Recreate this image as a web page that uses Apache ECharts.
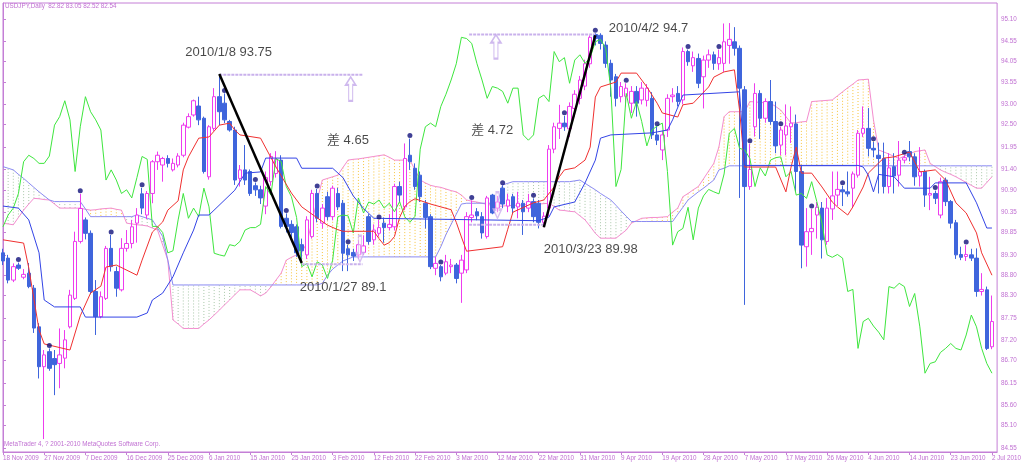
<!DOCTYPE html>
<html><head><meta charset="utf-8">
<script src="https://cdn.jsdelivr.net/npm/echarts@6/dist/echarts.min.js"></script>
<style>html,body{margin:0;padding:0;background:#fff}#c{width:1024px;height:462px}</style>
</head><body><div id="c"></div>
<script>
const dateLabels = ['18 Nov 2009','27 Nov 2009','7 Dec 2009','16 Dec 2009','25 Dec 2009','6 Jan 2010','15 Jan 2010','25 Jan 2010','3 Feb 2010','12 Feb 2010','22 Feb 2010','3 Mar 2010','12 Mar 2010','22 Mar 2010','31 Mar 2010','9 Apr 2010','19 Apr 2010','28 Apr 2010','7 May 2010','17 May 2010','26 May 2010','4 Jun 2010','14 Jun 2010','23 Jun 2010','2 Jul 2010'];
const yTicks = [95.10,94.55,94.05,93.55,93.00,92.50,91.95,91.40,90.90,90.35,89.85,89.30,88.80,88.30,87.75,87.20,86.70,86.15,85.60,85.10,84.55];

const opens = [89.35,89.22,88.68,89.05,88.75,88.85,88.48,87.53,86.55,86.92,
86.75,86.63,86.76,87.53,88.23,89.63,90.16,89.83,88.40,87.78,
88.23,89.46,88.89,88.44,89.46,89.58,90.08,90.80,90.28,90.81,
91.59,91.51,91.67,91.39,91.51,91.75,92.44,92.74,92.96,92.66,
91.22,92.41,93.19,93.03,92.58,92.37,91.18,91.39,91.35,91.00,
90.90,90.50,91.10,91.30,91.63,90.20,90.05,89.99,89.55,89.30,
89.75,90.81,90.08,90.73,90.24,90.81,90.57,89.45,89.36,89.30,
89.36,90.24,89.67,89.83,90.08,89.97,89.99,90.98,90.48,91.75,
91.43,91.26,90.57,90.24,88.97,89.01,88.85,89.01,89.05,88.85,
88.93,90.22,90.36,90.24,89.75,90.77,90.45,90.94,90.50,90.73,
90.48,90.57,90.45,90.61,90.57,90.10,90.45,91.90,92.41,92.54,
92.40,92.90,93.15,93.45,94.00,94.72,94.70,94.46,94.01,93.68,
93.19,93.20,93.03,93.32,93.11,93.10,93.15,92.25,91.88,92.37,
93.19,93.27,93.11,94.30,93.95,94.13,93.68,94.09,94.22,94.00,
94.01,94.45,94.54,94.38,93.36,90.98,92.45,93.27,92.66,93.07,
92.58,92.00,92.25,92.45,92.52,91.35,89.50,89.87,90.28,90.45,
89.63,90.43,90.77,90.90,90.85,90.94,91.26,92.29,92.41,91.92,
91.75,91.67,90.98,91.47,91.26,91.63,91.84,91.71,91.24,91.35,
90.77,90.81,90.28,91.14,90.61,90.09,89.31,89.26,89.30,89.22,
88.40,88.44,87.04];
const closes = [89.15,88.68,89.01,88.97,88.82,88.52,87.50,86.55,86.84,86.51,
86.60,86.84,87.21,88.31,89.63,90.44,89.83,88.40,87.78,88.27,
89.46,89.01,88.48,89.46,89.58,89.99,90.28,90.45,90.81,91.59,
91.75,91.67,91.55,91.55,91.73,92.49,92.70,93.09,92.62,91.35,
92.45,93.19,92.82,92.62,92.37,91.14,91.39,91.14,90.81,90.90,
90.70,91.20,91.72,91.65,90.00,90.00,89.85,89.35,89.40,90.16,
90.81,90.20,90.45,90.24,90.94,90.48,89.34,89.30,89.27,89.55,
89.52,89.63,89.91,89.97,89.97,90.05,90.98,90.77,91.67,91.59,
90.98,90.73,90.22,89.01,89.09,88.76,89.13,89.05,88.72,89.17,
90.24,90.28,90.26,89.84,90.70,90.33,90.60,90.55,90.65,90.45,
90.57,90.36,90.61,90.24,90.10,90.25,91.90,92.45,92.54,92.45,
92.95,93.25,93.60,94.00,94.65,94.62,94.50,94.01,93.60,93.15,
93.44,93.40,93.32,93.03,93.40,93.40,92.25,92.12,92.25,93.15,
93.23,93.07,94.30,94.05,94.15,93.52,94.09,94.22,94.01,94.15,
94.54,94.60,94.38,93.40,90.98,91.40,93.27,92.66,93.07,92.58,
91.98,92.37,92.47,92.54,91.35,89.54,89.87,89.95,90.47,89.67,
90.45,90.75,90.91,90.85,90.80,91.29,92.29,92.41,91.92,91.88,
91.67,90.98,91.44,91.24,91.63,91.69,91.71,91.22,91.35,90.77,
90.81,90.69,91.10,90.61,90.08,89.30,89.24,89.31,89.22,88.40,
88.45,87.00,87.66];
const highs = [89.45,89.30,89.09,89.11,88.95,89.10,88.56,87.62,86.96,87.00,
86.96,87.49,87.45,88.44,89.87,90.80,90.22,89.90,88.68,88.40,
89.52,89.79,89.01,89.71,89.91,90.16,90.45,90.95,90.87,91.63,
91.84,91.71,91.75,91.67,91.80,92.55,92.78,93.12,93.19,92.70,
92.49,93.40,93.75,93.27,92.62,92.45,91.51,92.00,91.40,91.08,
91.00,91.35,91.80,91.85,91.75,90.32,90.15,90.05,89.70,90.25,
90.90,90.92,90.55,90.85,91.00,90.95,90.65,89.55,89.45,89.65,
89.78,90.30,90.05,90.16,90.22,90.30,91.05,91.10,92.04,92.16,
91.55,91.35,90.65,90.30,89.25,89.05,89.30,89.20,89.10,89.30,
90.35,90.64,90.45,90.35,90.75,90.80,90.75,91.00,90.80,90.80,
90.85,90.65,90.80,90.69,90.65,90.35,92.00,92.55,92.99,92.72,
93.05,93.35,93.70,94.10,94.70,94.75,94.75,94.55,94.10,93.75,
93.55,93.52,93.45,93.45,93.55,93.50,93.30,92.45,92.35,93.25,
93.40,93.45,94.40,94.35,94.30,94.25,94.20,94.35,94.30,94.35,
94.99,95.00,94.90,94.45,93.45,92.03,93.52,93.35,93.15,93.60,
93.07,92.45,93.00,92.95,92.75,91.50,90.45,90.43,90.60,90.60,
90.70,91.35,91.35,91.00,91.35,91.35,92.37,92.95,92.91,92.08,
92.06,92.06,91.80,91.80,92.10,91.75,92.10,91.80,91.95,91.40,
91.22,90.88,91.20,91.20,90.65,90.16,89.50,89.54,89.45,89.46,
88.85,88.52,88.30];
const lows = [89.05,88.60,88.63,88.93,88.70,88.48,87.38,86.26,84.77,86.45,
85.85,86.02,86.51,87.49,88.19,89.58,89.68,88.33,87.33,87.74,
88.19,88.89,88.27,88.40,89.38,89.46,89.60,90.30,90.18,90.57,
91.39,91.10,91.45,91.35,91.45,91.70,92.41,92.70,92.49,91.30,
91.15,92.35,92.49,92.54,92.33,91.02,90.98,91.02,90.75,90.75,
90.55,90.30,91.00,91.20,89.95,89.85,89.70,89.25,89.10,89.20,
89.70,90.10,89.95,90.15,90.15,90.40,88.90,88.90,89.15,89.20,
89.30,89.55,89.55,89.75,89.60,89.90,89.90,90.60,90.40,91.39,
90.90,90.60,89.95,88.95,88.80,88.65,88.80,88.85,88.60,88.12,
88.85,90.10,90.15,89.70,89.70,90.30,90.35,90.45,90.35,90.30,
90.20,89.79,90.35,90.10,89.95,89.98,90.25,91.80,92.15,92.35,
92.20,92.70,93.00,93.35,93.90,94.45,94.35,93.90,93.19,92.95,
93.05,92.95,92.79,92.70,93.00,92.95,92.15,92.00,91.63,92.20,
93.05,92.95,93.00,93.95,93.80,93.40,92.90,93.90,93.85,93.85,
93.80,94.00,94.20,90.70,88.07,90.90,92.21,92.15,92.55,92.50,
91.80,91.75,91.75,92.05,90.85,88.97,89.01,89.30,89.70,89.21,
89.55,90.16,90.50,90.50,90.73,90.45,91.20,92.20,91.72,91.70,
90.81,90.81,90.81,90.81,90.98,91.55,91.60,91.00,90.98,90.48,
90.40,90.55,90.20,90.50,89.95,89.20,89.17,89.15,89.15,88.27,
88.30,86.96,86.98];
const markerBars = [3,9,15,21,27,43,49,55,61,67,73,79,85,91,97,103,109,115,121,127,133,139,145,151,157,163,169,175,181,187];

const tenkan = [[0,89.67],[4,89.59],[5,88.98],[7,87.45],[8,87.11],[13,86.96],[15,87.80],[17,88.36],[19,88.53],[20,89.00],[22,89.05],[26,88.80],[27,89.17],[29,89.86],[31,90.11],[32,90.40],[34,90.63],[35,91.39],[36,91.71],[38,92.17],[40,92.20],[42,92.49],[44,92.54],[45,92.37],[46,92.25],[50,92.17],[53,91.46],[56,90.82],[58,90.48],[63,90.03],[65,89.92],[66,89.88],[72,89.88],[73,89.70],[74,89.54],[75,89.60],[76,89.75],[77,90.22],[78,90.49],[79,90.61],[80,90.68],[83,90.55],[87,90.41],[88,90.10],[89,89.74],[90,89.39],[97,89.50],[98,89.93],[99,90.35],[103,90.58],[105,90.65],[107,90.97],[108,91.22],[109,91.39],[111,91.44],[113,91.63],[114,91.95],[115,93.18],[116,93.43],[119,93.55],[120,93.77],[123,93.77],[125,93.43],[127,93.03],[128,92.79],[131,92.69],[132,92.99],[134,93.03],[137,93.43],[138,93.67],[140,93.80],[142,93.85],[143,92.86],[144,91.46],[150,91.46],[152,90.85],[153,91.46],[154,91.95],[155,91.31],[157,91.31],[159,90.97],[161,90.60],[162,90.48],[164,90.28],[165,90.48],[167,90.97],[168,91.31],[170,91.56],[171,91.68],[173,91.71],[176,91.83],[178,91.34],[181,91.39],[183,91.14],[185,90.58],[187,90.33],[189,89.84],[190,89.35],[192,88.80]];
const kijun = [[0,90.50],[3,90.45],[5,90.16],[7,89.35],[8,88.19],[10,88.02],[15,88.02],[16,87.77],[26,87.77],[28,87.87],[29,88.19],[31,88.36],[33,88.76],[35,89.35],[37,89.91],[38,90.28],[40,90.28],[45,90.89],[47,91.31],[50,91.34],[51,91.68],[57,91.68],[58,91.43],[64,91.43],[66,91.20],[68,90.75],[70,90.44],[72,90.20],[104,90.14],[106,90.23],[107,90.48],[111,90.60],[113,91.07],[115,91.63],[116,92.17],[118,92.25],[126,92.30],[129,92.37],[130,92.62],[132,93.23],[143,93.31],[144,91.50],[166,91.50],[167,91.46],[168,91.26],[169,90.85],[170,91.28],[173,91.22],[175,90.94],[180,90.94],[181,91.07],[187,91.07],[189,90.58],[191,89.96],[192,89.96]];
const senkouA = [90.08,90.06,90.04,90.22,90.40,90.55,90.69,90.68,90.66,90.65,
90.55,90.45,90.45,90.45,90.45,90.45,90.42,90.40,90.41,90.43,
90.44,90.45,90.42,90.40,90.08,90.06,90.04,90.03,90.01,89.96,
89.91,89.54,89.17,87.70,87.60,87.49,87.49,87.49,87.49,87.60,
87.70,87.82,87.94,88.07,88.19,88.32,88.44,88.44,88.44,88.37,
88.29,88.36,88.51,88.68,88.85,89.17,89.24,89.30,89.37,89.59,
90.12,90.65,91.14,91.18,91.22,91.26,91.45,91.63,91.65,91.66,
91.68,91.70,91.72,91.74,91.76,91.70,91.63,91.63,91.63,91.63,
91.39,91.14,91.07,91.01,90.98,90.96,90.92,90.88,90.85,90.77,
90.65,90.62,90.60,90.57,90.54,90.52,90.49,90.50,90.51,90.52,
90.52,90.53,90.54,90.55,90.55,90.56,90.57,90.49,90.40,90.39,
90.37,90.36,90.26,90.16,90.00,89.83,89.71,89.71,89.71,89.71,
89.81,89.91,90.08,90.14,90.20,90.21,90.22,90.22,90.23,90.24,
90.35,90.45,90.73,90.81,90.90,90.98,91.17,91.36,91.55,91.96,
92.70,92.82,92.82,92.82,92.82,93.07,93.06,93.05,93.04,93.03,
92.95,92.86,92.70,92.54,92.55,92.57,92.58,93.07,93.08,93.09,
93.10,93.11,93.21,93.31,93.41,93.50,93.60,93.61,93.62,92.62,
91.88,91.83,91.78,91.72,91.67,91.73,91.78,91.84,91.86,91.88,
91.55,91.47,91.39,91.33,91.28,91.22,91.15,91.08,91.01,90.94,
90.94,91.08,91.22];
const senkouB = [91.47,91.43,91.39,91.28,91.18,91.07,90.96,90.85,90.75,90.65,
90.61,90.61,90.61,90.61,90.61,90.61,90.43,90.24,90.24,90.24,
90.24,90.24,90.24,90.24,90.24,90.24,90.28,90.24,90.20,90.16,
89.96,89.75,89.17,88.56,88.56,88.56,88.56,88.56,88.56,88.56,
88.56,88.56,88.56,88.56,88.56,88.56,88.56,88.56,88.56,88.56,
88.56,88.56,88.56,88.56,88.56,88.56,88.56,88.56,88.56,88.56,
88.56,88.56,88.60,88.80,88.95,89.05,89.15,89.20,89.25,89.25,
89.25,89.25,89.25,89.25,89.25,89.25,89.25,89.25,89.25,89.25,
89.25,89.25,89.25,89.25,89.25,89.50,89.80,90.05,90.30,90.55,
90.57,90.57,90.57,90.57,90.57,90.57,90.57,91.02,91.06,91.10,
91.10,91.10,91.10,91.10,91.10,91.10,91.10,91.10,91.10,91.10,
91.10,91.12,91.14,91.06,90.98,90.90,90.81,90.73,90.65,90.52,
90.38,90.25,90.12,90.12,90.12,90.12,90.12,90.12,90.12,90.12,
90.12,90.30,90.47,90.65,90.75,90.85,90.94,91.04,91.14,91.39,
91.43,91.49,91.49,91.49,91.49,91.49,91.49,91.49,91.49,91.49,
91.49,91.49,91.49,91.49,91.49,91.49,91.49,91.49,91.49,91.49,
91.49,91.49,91.49,91.49,91.49,91.49,91.49,91.49,91.49,91.49,
91.49,91.49,91.49,91.49,91.49,91.49,91.49,91.49,91.49,91.49,
91.49,91.49,91.49,91.49,91.49,91.49,91.49,91.49,91.49,91.49,
91.49,91.49,91.49];
// lagging span beyond the last visible close (bars 168..192)
const chikouTail = [87.74,87.55,87.40,87.21,88.52,88.48,88.60,88.52,88.03,88.35,87.53,86.39,86.63,86.67,86.90,87.00,87.12,87.00,86.96,87.33,87.82,87.53,87.00,86.63,86.39];
const chikouShift = 25;

const trendLines = [[[42,93.75],[58,89.10]], [[105,89.98],[115,94.70]]];
const levelLines = [[[42,93.73],[69.8,93.73]], [[58,89.07],[69.8,89.07]], [[90.5,94.72],[115,94.72]], [[90.5,90.04],[105,90.04]]];
const upArrows = [[67.5,93.38],[95.7,94.42]];
const downArrows = [[69.3,89.45],[96.0,90.52]];
const notes = [
  {text:'2010/1/8 93.75', x:35.4, y:94.27},
  {text:'2010/1/27 89.1', x:57.6, y:88.51},
  {text:'差 4.65', x:62.9, y:92.12},
  {text:'差 4.72', x:90.9, y:92.37},
  {text:'2010/4/2 94.7', x:117.6, y:94.88},
  {text:'2010/3/23 89.98', x:105.0, y:89.44}
];

const axisColor = '#c47fd6';
const textColor = '#c070d2';
const N = opens.length + 1;
const cats = [];
for (let i = 0; i < N; i++) cats.push(String(i));
const kData = opens.map((o, i) => [o, closes[i], lows[i], highs[i]]);
const chikou = closes.slice(chikouShift).concat(chikouTail).map((v, i) => [i, v]);
const cloud = senkouA.map((a, i) => [i, a, senkouB[i]]);

const chart = echarts.init(document.getElementById('c'), null, {renderer: 'canvas'});
const lineS = (name, data, color, width, z) => ({name, type:'line', data, xAxisIndex:0, symbol:'none', silent:true, z,
  lineStyle:{color, width}, animation:false});

const series = [
  {type:'custom', name:'cloud', xAxisIndex:0, silent:true, z:1, clip:true, data: cloud, encode:{x:0, y:[1,2]},
   renderItem:(params, api) => {
     const i = api.value(0), a = api.value(1), b = api.value(2);
     const p1 = api.coord([i, a]), p2 = api.coord([i, b]);
     return {type:'line', shape:{x1:p1[0], y1:p1[1], x2:p2[0], y2:p2[1]},
       style:{stroke: a > b ? '#f7c43c' : '#a9c7a9', lineWidth:1, lineDash:[1,2]}};
   }},
  lineS('senkouA', senkouA.map((v,i)=>[i,v]), '#f48ccf', 1, 2),
  lineS('senkouB', senkouB.map((v,i)=>[i,v]), '#8a8af2', 1, 2),
  {type:'candlestick', name:'USDJPY', xAxisIndex:0, data:kData, barWidth:4, z:3, silent:true,
   itemStyle:{color:'#ffffff', color0:'#3f65dc', borderColor:'#ee3cee', borderColor0:'#3f65dc', borderWidth:1}},
  lineS('chikou', chikou, '#3ee63e', 1, 4),
  lineS('tenkan', tenkan, '#f03030', 1, 4),
  lineS('kijun', kijun, '#3344e6', 1, 4),
  {type:'scatter', name:'marks', xAxisIndex:0, data: markerBars.map(i => [i, highs[i]]), symbol:'circle', symbolSize:5,
   symbolOffset:[0,-3], itemStyle:{color:'#10107a'}, z:5, silent:true},
];
levelLines.forEach(l => series.push({type:'line', xAxisIndex:1, data:l, symbol:'none', silent:true, z:6,
  lineStyle:{color:'#c9b1ec', width:2, type:[3,1]}}));
trendLines.forEach(l => series.push({type:'line', xAxisIndex:1, data:l, symbol:'none', silent:true, z:7,
  lineStyle:{color:'#000000', width:2.5}}));
series.push({type:'scatter', xAxisIndex:1, data:upArrows, silent:true, z:7,
  symbol:'path://M5,0L10,8L7,8L7,24L3,24L3,8L0,8Z', symbolSize:[10,24],
  itemStyle:{color:'#ffffff', borderColor:'#c3a8ea', borderWidth:1.5}});
series.push({type:'scatter', xAxisIndex:1, data:downArrows, silent:true, z:7,
  symbol:'path://M3,0L7,0L7,16L10,16L5,24L0,16L3,16Z', symbolSize:[8,26],
  itemStyle:{color:'rgba(255,235,250,0.55)', borderColor:'#cdb2ee', borderWidth:1.5}});
series.push({type:'scatter', xAxisIndex:1, data: notes.map(n => ({value:[n.x, n.y], name:n.text})), symbolSize:0, silent:true, z:8,
  label:{show:true, position:'right', distance:0, formatter:p => p.name, color:'#1a1a1a', fontSize:13,
    fontFamily:'"Liberation Sans","Noto Sans CJK JP",sans-serif'}});

chart.setOption({
  animation:false,
  backgroundColor:'#ffffff',
  grid:{left:2, right:24, top:3, bottom:10, show:true, borderColor:axisColor, borderWidth:1, backgroundColor:'#ffffff'},
  xAxis:[
    {type:'category', data:cats, boundaryGap:false, position:'bottom',
     axisLine:{show:true, lineStyle:{color:axisColor}},
     axisTick:{show:true, interval:(i) => i % 8 === 0, length:3, lineStyle:{color:axisColor}},
     axisLabel:{interval:(i) => i % 8 === 0, formatter:(v, i) => dateLabels[i / 8] || '', color:textColor, fontSize:6.3,
       fontFamily:'"Liberation Sans",sans-serif', align:'left', margin:3},
     splitLine:{show:false}},
    {type:'value', min:0, max:N - 1, show:false, position:'bottom'}
  ],
  yAxis:{type:'value', position:'right', min:84.452, max:95.494,
    axisLine:{show:true, lineStyle:{color:axisColor}},
    axisTick:{show:true, customValues:yTicks, length:3, lineStyle:{color:axisColor}},
    axisLabel:{customValues:yTicks, formatter:v => v.toFixed(2), color:textColor, fontSize:6.3,
      fontFamily:'"Liberation Sans",sans-serif', margin:4},
    splitLine:{show:false}},
  graphic:[
    {type:'text', left:5, top:3, style:{text:'USDJPY,Daily  82.82 83.05 82.52 82.54', fill:textColor, font:'6.3px "Liberation Sans"'}},
    {type:'text', left:4, top:441, style:{text:'MetaTrader 4, ? 2001-2010 MetaQuotes Software Corp.', fill:textColor, font:'6.3px "Liberation Sans"'}}
  ],
  series
});
</script>
</body></html>
